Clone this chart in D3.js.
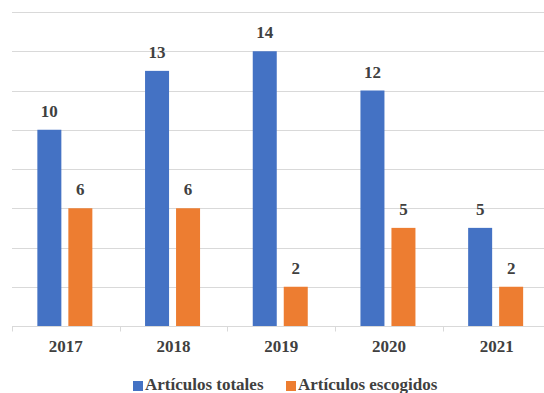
<!DOCTYPE html>
<html><head><meta charset="utf-8">
<script src="https://cdn.jsdelivr.net/npm/d3@7"></script>
</head><body style="margin:0;background:#fff">
<script>
const categories = ["2017","2018","2019","2020","2021"];
const seriesNames = ["Artículos totales","Artículos escogidos"];
const totales = [10,13,14,12,5];
const escogidos = [6,6,2,5,2];
const yTicks = [0,2,4,6,8,10,12,14,16];
const colors = ["#4472C4","#ED7D31"];

const W=544,H=393;
const FF="Liberation Serif, Tinos, Times New Roman, serif";
const FS=17;
const svg=d3.select("body").append("svg").attr("width",W).attr("height",H).style("display","block");
const x=d3.scaleBand().domain(categories).range([12,550.5]);
const y=d3.scaleLinear().domain([0,16]).range([326,12]);
const txt="#404040";

svg.append("g").selectAll("line").data(yTicks.slice(1)).join("line")
  .attr("x1",12).attr("x2",W).attr("y1",d=>Math.round(y(d))+0.5).attr("y2",d=>Math.round(y(d))+0.5)
  .attr("stroke","#d9d9d9").attr("stroke-width",1);

const xAxis=svg.append("g").attr("transform","translate(0,326.5)")
  .call(d3.axisBottom(x).tickSize(0).tickFormat(d=>d));
xAxis.attr("font-family",FF).attr("font-size",FS);
xAxis.select(".domain").remove();
xAxis.append("line").attr("x1",12).attr("x2",W).attr("stroke","#d9d9d9");
xAxis.selectAll(".bd").data(d3.range(categories.length+1)).join("line")
  .attr("x1",i=>Math.round(12+i*x.step())+0.5).attr("x2",i=>Math.round(12+i*x.step())+0.5)
  .attr("y1",0).attr("y2",5).attr("stroke","#d9d9d9");
xAxis.selectAll(".tick text").attr("dy",0).attr("y",25.5)
  .attr("font-family",FF).attr("font-size",FS).attr("font-weight","bold").attr("fill",txt);

const bw=24,gap=7;
const series=[totales,escogidos];
series.forEach((vals,si)=>{
  const off=-(bw+gap/2)+si*(bw+gap)-1;
  const g=svg.append("g");
  g.selectAll("rect").data(vals).join("rect")
    .attr("x",(d,i)=>x(categories[i])+x.bandwidth()/2+off)
    .attr("width",bw)
    .attr("y",d=>y(d)).attr("height",d=>y(0)-y(d))
    .attr("fill",colors[si]);
  g.selectAll("text").data(vals).join("text")
    .attr("x",(d,i)=>x(categories[i])+x.bandwidth()/2+off+bw/2)
    .attr("y",d=>y(d)-13)
    .attr("text-anchor","middle")
    .attr("font-family",FF).attr("font-size",FS).attr("font-weight","bold").attr("fill",txt)
    .text(d=>d);
});

const legX=[133,286];
seriesNames.forEach((n,i)=>{
  svg.append("rect").attr("x",legX[i]).attr("y",381).attr("width",10).attr("height",10).attr("fill",colors[i]);
  svg.append("text").attr("x",legX[i]+12).attr("y",390)
    .attr("font-family",FF).attr("font-size",FS).attr("font-weight","bold").attr("fill",txt).text(n);
});
</script>
</body></html>
